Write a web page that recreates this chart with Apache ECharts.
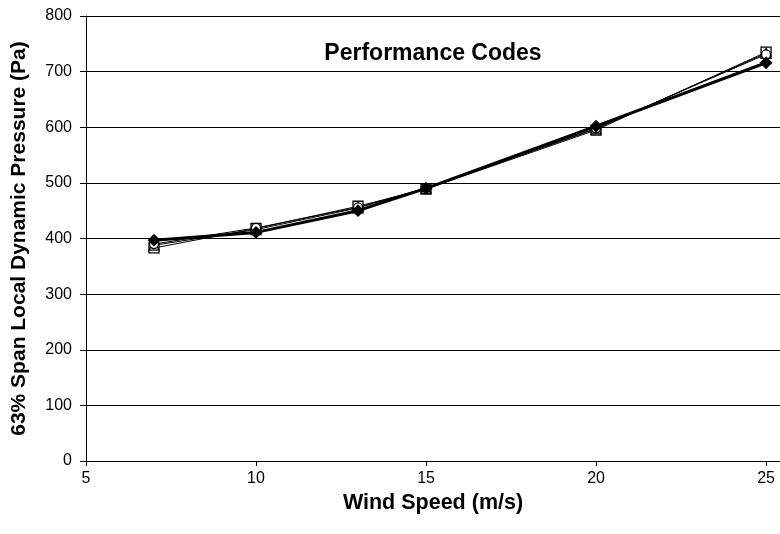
<!DOCTYPE html>
<html><head><meta charset="utf-8">
<script src="https://cdn.jsdelivr.net/npm/echarts@6/dist/echarts.min.js"></script>
<style>html,body{margin:0;padding:0;background:#fff}#c{width:780px;height:534px}</style>
</head><body><div id="c"></div>
<script>
const windSpeed = [7, 10, 13, 15, 20, 25];
const codeDiamond = [397, 411, 450, 490, 602, 716];
const codeSquare = [383, 418, 458, 489, 595, 735];
const codeTriangle = [388, 416, 455, 490, 597, 733];
const codeCircle = [390, 419, 456, 491, 598, 731];
const xTicks = [5, 10, 15, 20, 25];

const font = 'Liberation Sans, Arial, sans-serif';
function pairs(ys){ return windSpeed.map((x,i)=>[x, ys[i]]); }
function mk(name, ys, symbol, filled, lw, size){
  return {name, type:'line', data:pairs(ys), symbol, symbolSize:size,
    lineStyle:{color:'#000', width:lw},
    itemStyle:{color: filled ? '#000' : '#fff', borderColor:'#000', borderWidth:1.3},
    z: filled ? 3 : 2, animation:false};
}
const chart = echarts.init(document.getElementById('c'));
chart.setOption({
  animation:false,
  title:{text:'Performance Codes', left:428, top:37, textAlign:'center',
    textStyle:{fontFamily:font, fontSize:23, fontWeight:'bold', color:'#000'}},
  grid:{left:86, top:16, right:0, bottom:73, containLabel:false},
  xAxis:{type:'value', min:5, max:25.41, interval:5,
    name:'Wind Speed (m/s)', nameLocation:'middle', nameGap:21,
    nameTextStyle:{fontFamily:font, fontSize:21.5, fontWeight:'bold', color:'#000'},
    axisLine:{lineStyle:{color:'#000', width:1}},
    axisTick:{show:true, inside:false, length:5, lineStyle:{color:'#000'}, customValues:xTicks},
    axisLabel:{fontFamily:font, fontSize:16, color:'#000', margin:10, customValues:xTicks},
    splitLine:{show:false}},
  yAxis:{type:'value', min:0, max:800, interval:100,
    name:'63% Span Local Dynamic Pressure (Pa)', nameLocation:'middle', nameGap:56,
    nameTextStyle:{fontFamily:font, fontSize:21, fontWeight:'bold', color:'#000'},
    axisLine:{show:true, lineStyle:{color:'#000', width:1}},
    axisTick:{show:true, length:6, lineStyle:{color:'#000'}},
    axisLabel:{fontFamily:font, fontSize:16, color:'#000', margin:14},
    splitLine:{show:true, lineStyle:{color:'#000', width:1}}},
  series:[
    mk('Code A', codeSquare, 'rect', false, 1, 10),
    mk('Code B', codeTriangle, 'triangle', false, 1, 10),
    mk('Code C', codeCircle, 'circle', false, 1, 9),
    mk('Code D', codeDiamond, 'diamond', true, 3, 11)
  ]
});
</script></body></html>
